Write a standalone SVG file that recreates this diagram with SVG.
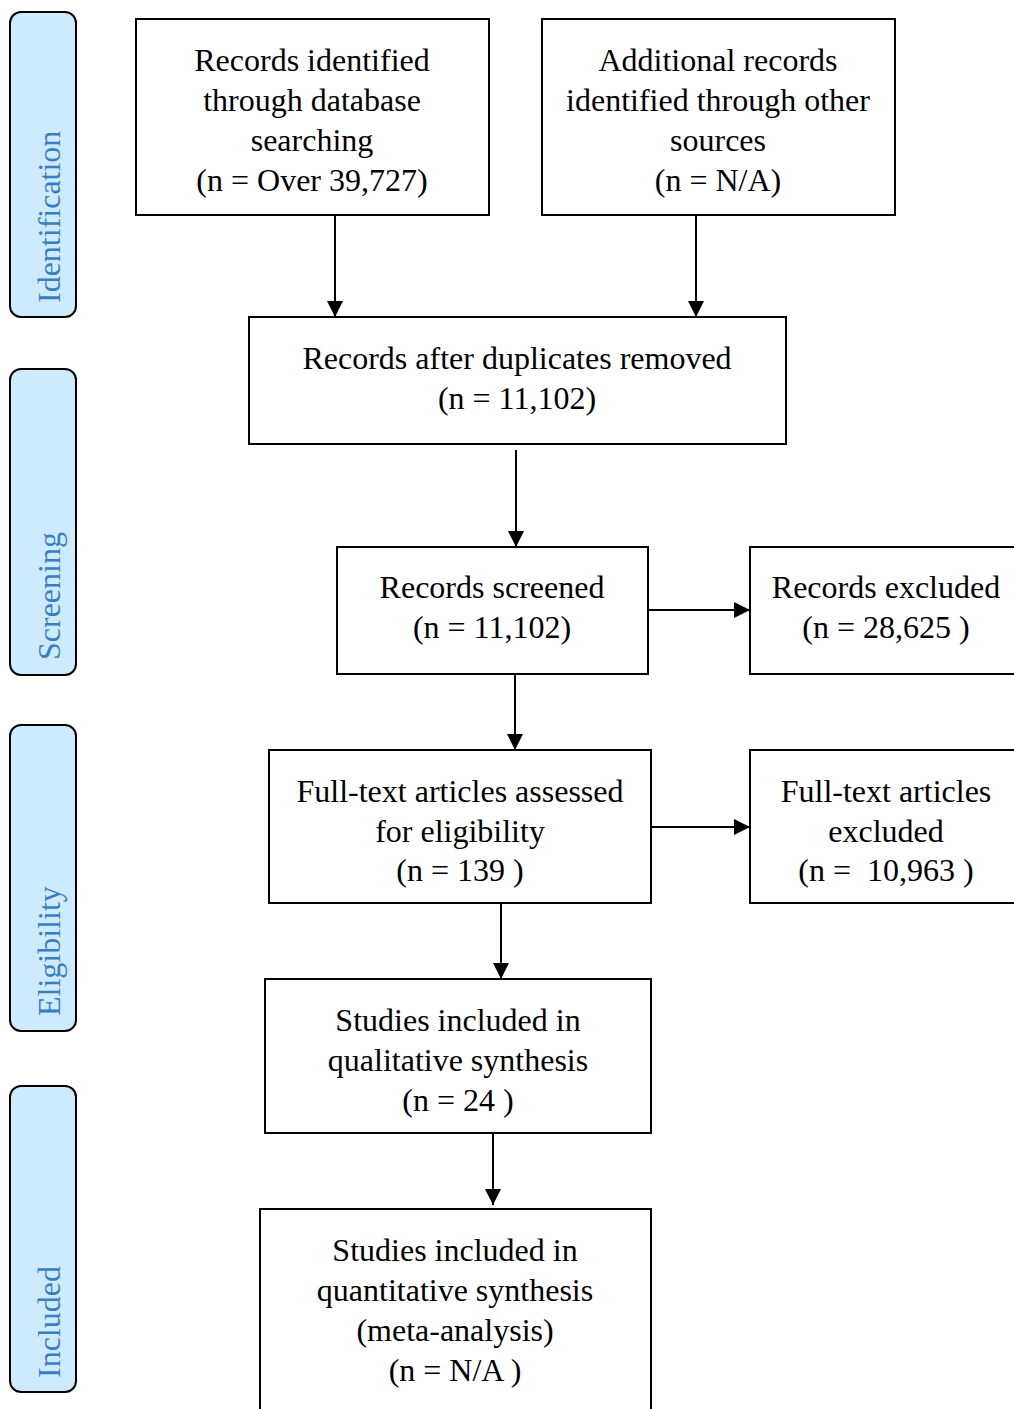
<svg xmlns="http://www.w3.org/2000/svg" width="1014" height="1409" viewBox="0 0 1014 1409">
<style>
.bar{fill:#cdebfd;stroke:#000;stroke-width:2}
.bl{font-family:"Liberation Serif","Times New Roman",serif;font-size:32px;fill:#3a7ec2;text-anchor:start}
.box{fill:#fff;stroke:#000;stroke-width:2}
.t{font-family:"Liberation Serif","Times New Roman",serif;font-size:32px;fill:#000;text-anchor:middle}
.c{stroke:#000;stroke-width:2;fill:none;marker-end:url(#ah)}
</style>
<defs>
<marker id="ah" viewBox="0 0 16 16" refX="16" refY="8" markerWidth="16" markerHeight="16" markerUnits="userSpaceOnUse" orient="auto">
<path d="M0,0 L16,8 L0,16 Z" fill="#000"/>
</marker>
</defs>
<rect width="1014" height="1409" fill="#fff"/>
<g id="phase-identification"><rect class="bar" x="10" y="12" width="66" height="305" rx="11"/><text class="bl" transform="translate(60,303) rotate(-90)">Identification</text></g>
<g id="phase-screening"><rect class="bar" x="10" y="369" width="66" height="306" rx="11"/><text class="bl" transform="translate(60,660) rotate(-90)">Screening</text></g>
<g id="phase-eligibility"><rect class="bar" x="10" y="725" width="66" height="306" rx="11"/><text class="bl" transform="translate(60,1016) rotate(-90)">Eligibility</text></g>
<g id="phase-included"><rect class="bar" x="10" y="1086" width="66" height="306" rx="11"/><text class="bl" transform="translate(60,1378) rotate(-90)">Included</text></g>

<g id="db-records"><rect class="box" x="136" y="19" width="353" height="196"/>
<text class="t" x="312" y="71">Records identified</text><text class="t" x="312" y="111">through database</text><text class="t" x="312" y="151">searching</text><text class="t" x="312" y="191">(n = Over 39,727)</text></g>
<g id="other-records"><rect class="box" x="542" y="19" width="353" height="196"/>
<text class="t" x="718" y="71">Additional records</text><text class="t" x="718" y="111">identified through other</text><text class="t" x="718" y="151">sources</text><text class="t" x="718" y="191">(n = N/A)</text></g>
<g id="dup-removed"><rect class="box" x="249" y="317" width="537" height="127"/>
<text class="t" x="517" y="369">Records after duplicates removed</text><text class="t" x="517" y="409">(n = 11,102)</text></g>
<g id="screened"><rect class="box" x="337" y="547" width="311" height="127"/>
<text class="t" x="492" y="598">Records screened</text><text class="t" x="492" y="638">(n = 11,102)</text></g>
<g id="excluded"><rect class="box" x="750" y="547" width="274" height="127"/>
<text class="t" x="886" y="598">Records excluded</text><text class="t" x="886" y="638">(n = 28,625 )</text></g>
<g id="fulltext"><rect class="box" x="269" y="750" width="382" height="153"/>
<text class="t" x="460" y="802">Full-text articles assessed</text><text class="t" x="460" y="842">for eligibility</text><text class="t" x="460" y="881">(n = 139 )</text></g>
<g id="fulltext-excluded"><rect class="box" x="750" y="750" width="274" height="153"/>
<text class="t" x="886" y="802">Full-text articles</text><text class="t" x="886" y="842">excluded</text><text class="t" x="886" y="881" xml:space="preserve">(n =  10,963 )</text></g>
<g id="qualitative"><rect class="box" x="265" y="979" width="386" height="154"/>
<text class="t" x="458" y="1031">Studies included in</text><text class="t" x="458" y="1071">qualitative synthesis</text><text class="t" x="458" y="1111">(n = 24 )</text></g>
<g id="quantitative"><rect class="box" x="260" y="1209" width="391" height="220"/>
<text class="t" x="455" y="1261">Studies included in</text><text class="t" x="455" y="1301">quantitative synthesis</text><text class="t" x="455" y="1341">(meta-analysis)</text><text class="t" x="455" y="1381">(n = N/A )</text></g>

<g id="connectors">
<line class="c" x1="335" y1="215" x2="335" y2="317"/>
<line class="c" x1="696" y1="215" x2="696" y2="317"/>
<line class="c" x1="516" y1="450" x2="516" y2="547"/>
<line class="c" x1="648" y1="610" x2="750" y2="610"/>
<line class="c" x1="515" y1="674" x2="515" y2="750"/>
<line class="c" x1="651" y1="827" x2="750" y2="827"/>
<line class="c" x1="501" y1="903" x2="501" y2="979"/>
<line class="c" x1="493" y1="1133" x2="493" y2="1205"/>
</g>
</svg>
